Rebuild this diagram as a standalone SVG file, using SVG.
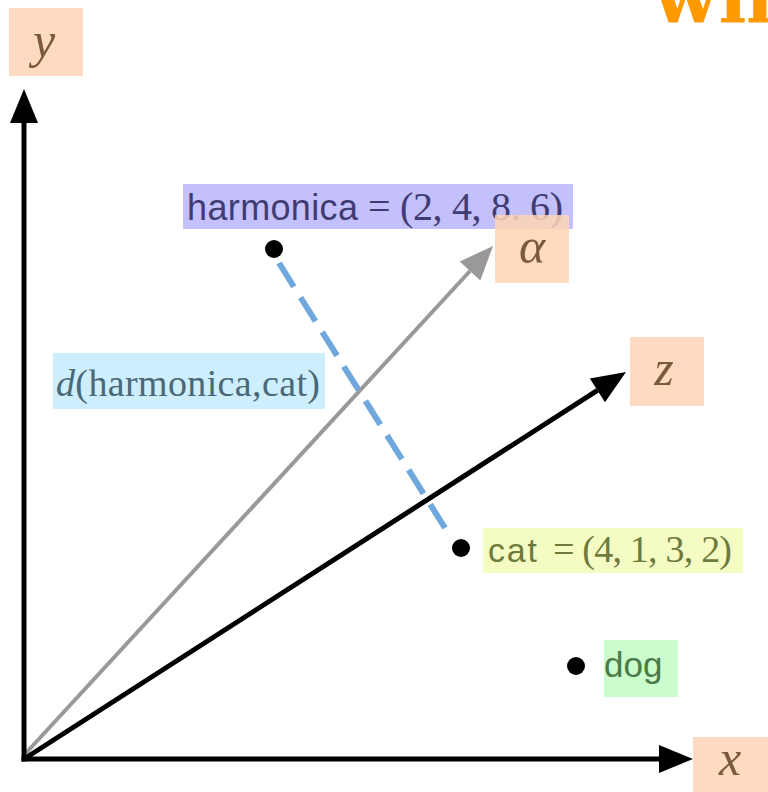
<svg xmlns="http://www.w3.org/2000/svg" width="768" height="792" viewBox="0 0 768 792">
<style>
.sans{font-family:"Liberation Sans",Arial,sans-serif}
.math{font-family:"Liberation Serif","DejaVu Serif",serif}
.axlab{fill:#fedac0}
.axtxt{font-family:"Liberation Serif","DejaVu Serif",serif;font-style:italic;font-size:50px;fill:#7a5a3c;text-anchor:middle}
.dot{fill:#000}
</style>
<defs>
<marker id="ah" markerUnits="userSpaceOnUse" markerWidth="36" markerHeight="28" viewBox="0 0 36 28" refX="0" refY="14" orient="auto" overflow="visible">
<path d="M0,0 L34,14 L0,28 z" fill="#000"/>
</marker>
<marker id="ahg" markerUnits="userSpaceOnUse" markerWidth="36" markerHeight="28" viewBox="0 0 36 28" refX="0" refY="14" orient="auto" overflow="visible">
<path d="M0,0 L34,14 L0,28 z" fill="#999"/>
</marker>
</defs>
<text x="653" y="22" font-family="DejaVu Serif,serif" font-weight="bold" font-size="76" fill="#ff9900">wh</text>
<g id="connectors">
<line x1="26" y1="753" x2="470" y2="271" stroke="#999" stroke-width="4" marker-end="url(#ahg)"/>
<line x1="24" y1="759" x2="597.4" y2="390.4" stroke="#000" stroke-width="5" marker-end="url(#ah)"/>
<line x1="24" y1="761.5" x2="24" y2="123" stroke="#000" stroke-width="5" marker-end="url(#ah)"/>
<line x1="21.5" y1="759" x2="659" y2="759" stroke="#000" stroke-width="5" marker-end="url(#ah)"/>
<line x1="279" y1="263" x2="445" y2="528" stroke="#6fa8dc" stroke-width="6" stroke-dasharray="28 12.7"/>
</g>
<g id="y-label"><rect class="axlab" x="9" y="8" width="74" height="68"/><text class="axtxt" x="44" y="57">y</text></g>
<g id="x-label"><rect class="axlab" x="693" y="737" width="75" height="55"/><text class="axtxt" x="730" y="775">x</text></g>
<g id="z-label"><rect class="axlab" x="630" y="337" width="74" height="69"/><text class="axtxt" x="664" y="385">z</text></g>
<g id="harmonica">
<circle class="dot" cx="274" cy="249" r="9"/>
<rect x="183" y="184" width="390" height="45" fill="#c4c0fc"/>
<text x="187" y="220" fill="#3f3c74" font-size="36"><tspan class="sans" textLength="171">harmonica</tspan><tspan class="math" x="368" font-size="40" textLength="195">= (2, 4, 8. 6)</tspan></text>
</g>
<g id="alpha-label"><rect x="495" y="215" width="74" height="68" fill="#fed4b4" opacity="0.85"/><text class="axtxt" x="532" y="263">α</text></g>
<g id="distance-label">
<rect x="53" y="353" width="272" height="56" fill="#cdeefc"/>
<text class="math" x="56" y="396" font-size="38" fill="#4a6877" textLength="264"><tspan font-style="italic">d</tspan>(harmonica,cat)</text>
</g>
<g id="cat">
<circle class="dot" cx="461" cy="548" r="9"/>
<rect x="483" y="528" width="260" height="45" fill="#f4fcc4"/>
<text x="488" y="562" fill="#6e7a3c" font-size="34"><tspan class="sans" textLength="49">cat</tspan><tspan class="math" x="553" font-size="38" textLength="179">= (4, 1, 3, 2)</tspan></text>
</g>
<g id="dog">
<circle class="dot" cx="576" cy="666" r="9"/>
<rect x="604" y="640" width="74" height="57" fill="#cbfccb"/>
<text class="sans" x="604" y="677" fill="#4b7a4b" font-size="35">dog</text>
</g>
</svg>
